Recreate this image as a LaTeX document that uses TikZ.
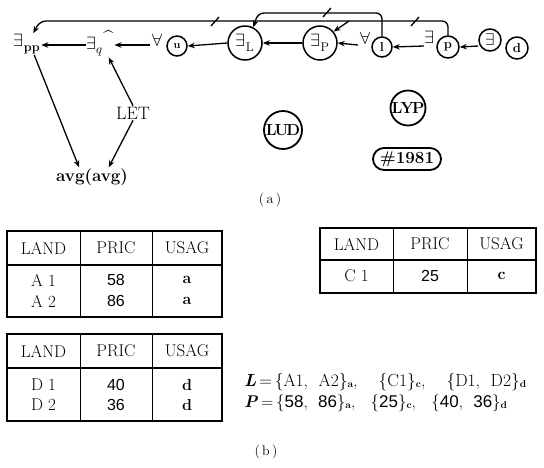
\documentclass[tikz,border=0pt]{standalone}
\usepackage{unicode-math}
\newfontfamily\numfont{Liberation Sans}
\newcommand\sbsc[1]{\raisebox{-1.5pt}{\fontsize{10}{10}\selectfont\bfseries #1}}
\usetikzlibrary{arrows.meta,calc}
\tikzset{
  cnode/.style={circle,draw,line width=1.5pt,inner sep=0pt,minimum size=#1},
  arr/.style={-{Stealth[length=7pt,width=5.5pt]},line width=1.3pt},
  tline/.style={line width=1.3pt},
  outer/.style={line width=1.3pt},
  innerl/.style={line width=0.7pt},
  topf/.style={font=\fontsize{18}{20}\selectfont},
  txt/.style={font=\fontsize{17}{20}\selectfont,inner sep=1pt},
  numt/.style={font=\fontsize{16}{19}\selectfont\numfont,inner sep=1pt},
  boldt/.style={font=\fontsize{16}{19}\selectfont\bfseries,inner sep=1pt},
  capt/.style={font=\fontsize{14}{16}\selectfont},
}
\begin{document}
\begin{tikzpicture}[x=1pt,y=-1pt]
\useasboundingbox (0,0) rectangle (544,467);
% ---------- top row ----------
\node[topf,inner sep=1pt] (epp) at (27,44) {$\exists_{\mathbf{pp}}$};
\node[topf,inner sep=1pt] (eq) at (100,43) {$\exists_{q}$\raisebox{6pt}{\textasciicircum}};
\node[topf,inner sep=1pt] (Au) at (157,40) {$\forall$};
\node[cnode=20pt,font=\fontsize{11}{12}\selectfont\bfseries] (u) at (177,46) {u};
\node[cnode=34pt,topf] (eL) at (245,43) {$\exists_{\mathrm{L}}$};
\node[cnode=34pt,topf] (eP) at (320,43) {$\exists_{\mathrm{P}}$};
\node[topf,inner sep=1pt] (Al) at (365,38) {$\forall$};
\node[cnode=20pt,font=\fontsize{13}{13}\selectfont\bfseries] (l) at (382,47) {l};
\node[topf,inner sep=1pt] (Ep) at (430,37) {$\exists$};
\node[cnode=22pt,font=\fontsize{13}{13}\selectfont\bfseries] (p) at (448,47) {p};
\node[cnode=22pt,font=\fontsize{17}{17}\selectfont] (Ed) at (490,40) {$\exists$};
\node[cnode=22pt,font=\fontsize{13}{13}\selectfont\bfseries] (d) at (517,48) {d};
% horizontal arrows
\draw[arr] (eq.west |- 0,45) -- (epp.east |- 0,45);
\draw[arr] (Au.west |- 0,45) -- (eq.east |- 0,45);
\draw[arr] (eL.180) -- (u.0);
\draw[arr] (eP.180) -- (eL.0);
\draw[arr] (Al.west |- 0,45) -- (eP.0);
\draw[arr] (Ep.west |- 0,46) -- (l.0);
\draw[arr] (Ed.west |- 0,46) -- (p.0);
% upper connectors
\coordinate (c1) at (448,21);
\coordinate (c2) at (40,21);
\coordinate (br) at (349,21);
\coordinate (c3) at (382,13);
\coordinate (c4) at (258,13);
\draw[arr,rounded corners=6pt] (p.north) -- (c1) -- (c2) -- (epp.60);
\draw[arr] (br) -- (eP.40);
\draw[arr,rounded corners=6pt] (l.north) -- (c3) -- (c4) -- (eL.62);
\draw[tline] (211,26) -- (219,17);
\draw[tline] (323,17) -- (331,8);
\draw[tline] (411,26) -- (419,17);
% ---------- lower (a) ----------
\node[txt,font=\fontsize{18}{20}\selectfont] (LET) at (133,113) {LET};
\node[txt,font=\fontsize{17}{20}\selectfont\bfseries] (avg) at (92,177) {avg(avg)};
\draw[arr] (LET.north) -- ($(eq.south)!0.6!(eq.south east)$);
\draw[arr] ($(epp.south)!0.5!(epp.south east)$) -- ($(avg.north)!0.35!(avg.north west)$);
\draw[arr] (LET.south) -- ($(avg.north)!0.45!(avg.north east)$);
\node[circle,draw,line width=1.8pt,minimum size=38pt,inner sep=0pt,font=\fontsize{16}{16}\selectfont\bfseries] (LUD) at (283,130) {L\kern-2ptU\kern-2ptD};
\node[circle,draw,line width=1.8pt,minimum size=35pt,inner sep=0pt,font=\fontsize{16}{16}\selectfont\bfseries] (LYP) at (408,108) {L\kern-2ptY\kern-2ptP};
\node[draw,rounded corners=11pt,line width=1.8pt,minimum width=68pt,minimum height=22pt,inner sep=0pt,font=\fontsize{17}{17}\selectfont\bfseries] (n1981) at (407,159) {\#1981};
\node[capt] (capa) at (270,200) {(\,a\,)};
% ---------- tables ----------
% table A
\draw[outer] (7,231) rectangle (222,317);
\draw[outer] (7,265) -- (222,265);
\draw[innerl] (80,231) -- (80,317);
\draw[innerl] (152,231) -- (152,317);
\node[txt] (a11) at (43.5,248) {LAND};
\node[txt] (a12) at (116,248) {PRIC};
\node[txt] (a13) at (187,248) {USAG};
\node[txt] (a21) at (43.5,280) {A 1};
\node[numt] (a22) at (116,280) {58};
\node[boldt] (a23) at (187,280) {a};
\node[txt] (a31) at (43.5,301) {A 2};
\node[numt] (a32) at (116,301) {86};
\node[boldt] (a33) at (187,301) {a};
% table C
\draw[outer] (320,228) rectangle (536,293);
\draw[outer] (320,260) -- (536,260);
\draw[innerl] (393,228) -- (393,293);
\draw[innerl] (467,228) -- (467,293);
\node[txt] (c11) at (356.5,244) {LAND};
\node[txt] (c12) at (430,244) {PRIC};
\node[txt] (c13) at (501.5,244) {USAG};
\node[txt] (c21) at (356.5,276) {C 1};
\node[numt] (c22) at (430,276) {25};
\node[boldt] (c23) at (501.5,276) {c};
% table D
\draw[outer] (7,334) rectangle (222,421);
\draw[outer] (7,368) -- (222,368);
\draw[innerl] (80,334) -- (80,421);
\draw[innerl] (152,334) -- (152,421);
\node[txt] (d11) at (43.5,351) {LAND};
\node[txt] (d12) at (116,351) {PRIC};
\node[txt] (d13) at (187,351) {USAG};
\node[txt] (d21) at (43.5,385) {D 1};
\node[numt] (d22) at (116,385) {40};
\node[boldt] (d23) at (187,385) {d};
\node[txt] (d31) at (43.5,405) {D 2};
\node[numt] (d32) at (116,405) {36};
\node[boldt] (d33) at (187,405) {d};
% equations
\node[anchor=west,font=\fontsize{17.5}{19}\selectfont,inner sep=0pt] (Leq) at (244,382)
  {\textbf{\textit{L}}\,=\,\{A1,\ \ A2\}\sbsc{a},\ \ \ \ \{C1\}\sbsc{c},\ \ \ \ \{D1,\ \ D2\}\sbsc{d}};
\node[anchor=west,font=\fontsize{17}{19}\selectfont,inner sep=0pt] (Peq) at (244,403)
  {\textbf{\textit{P}}\,=\,\{{\numfont 58},\ \ {\numfont 86}\}\sbsc{a},\ \ \ \{{\numfont 25}\}\sbsc{c},\ \ \ \{{\numfont 40},\ \ {\numfont 36}\}\sbsc{d}};
\node[capt] (capb) at (266,452) {(\,b\,)};
\end{tikzpicture}
\end{document}
